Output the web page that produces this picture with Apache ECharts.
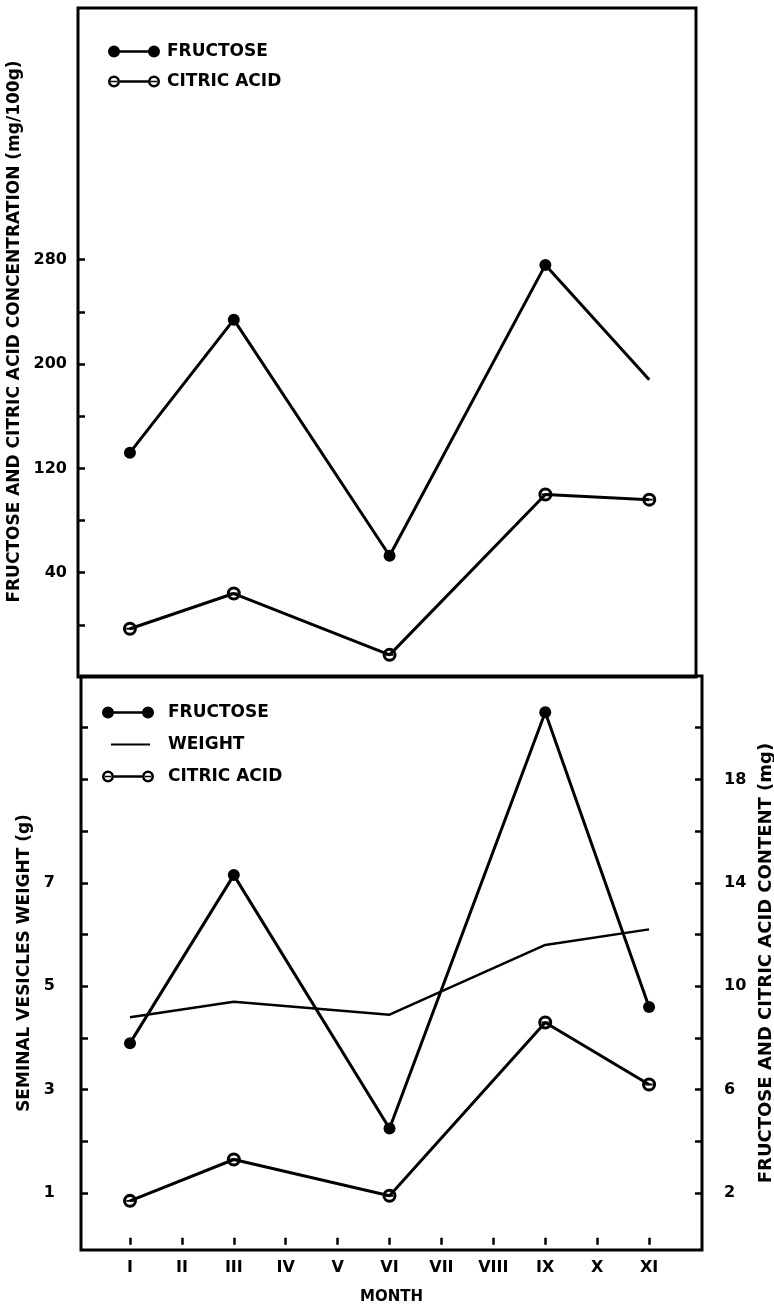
<!DOCTYPE html>
<html>
<head>
<meta charset="utf-8">
<script src="https://cdn.jsdelivr.net/npm/echarts@6/dist/echarts.min.js"></script>
<style>
  html, body { margin: 0; padding: 0; background: #fff; }
  #main { width: 774px; height: 1310px; }
</style>
</head>
<body>
<div id="main"></div>
<script>
// month labels along the bottom axis (index 1 = I)
var months = ['I', 'II', 'III', 'IV', 'V', 'VI', 'VII', 'VIII', 'IX', 'X', 'XI'];
var sampled = [1, 3, 6, 9, 11];

// top panel: concentration (mg/100g)
var concFructose = [132, 234, 53, 276, 188];
var concCitric = [-3, 24, -23, 100, 96];

// bottom panel: content (mg) and vesicle weight (g)
var contFructose = [7.8, 14.3, 4.5, 20.6, 9.2];
var contCitric = [1.7, 3.3, 1.9, 8.6, 6.2];
var weight = [4.4, 4.7, 4.45, 5.8, 6.1];

var topTicks = [0, 40, 80, 120, 160, 200, 240, 280];
var topLabels = [40, 120, 200, 280];
var weightTicks = [1, 2, 3, 4, 5, 6, 7, 8, 9, 10];
var weightLabels = [1, 3, 5, 7];
var contTicks = [2, 4, 6, 8, 10, 12, 14, 16, 18, 20];
var contLabels = [2, 6, 10, 14, 18];

function pairs(vals) {
  return vals.map(function (v, i) { return [sampled[i], v]; });
}
var monthTicks = months.map(function (m, i) { return i + 1; });

var FONT = 'DejaVu Sans';
var dotPath = 'path://M0,6a6,6 0 1,1 12,0a6,6 0 1,1 -12,0Z';
var thetaPath = 'path://M0,6a6,6 0 1,1 12,0a6,6 0 1,1 -12,0ZM2.6,6a3.4,3.4 0 1,0 6.8,0a3.4,3.4 0 1,0 -6.8,0ZM3,5.2H9V6.8H3Z';
var dumbbell = 'path://M0,6a6,6 0 1,1 12,0a6,6 0 1,1 -12,0ZM40,6a6,6 0 1,1 12,0a6,6 0 1,1 -12,0ZM6,4.8H46V7.2H6Z';
var dumbbellOpen = 'path://M0,6a6,6 0 1,1 12,0a6,6 0 1,1 -12,0ZM2.6,6a3.4,3.4 0 1,0 6.8,0a3.4,3.4 0 1,0 -6.8,0ZM3,5.2H9V6.8H3Z' +
  'M40,6a6,6 0 1,1 12,0a6,6 0 1,1 -12,0ZM42.6,6a3.4,3.4 0 1,0 6.8,0a3.4,3.4 0 1,0 -6.8,0ZM43,5.2H49V6.8H43Z' +
  'M12,4.8H40V7.2H12Z';
var plainLine = 'path://M0,0ZM52,12ZM9,5H48V7H9Z';

var chart = echarts.init(document.getElementById('main'));

var textBase = { color: '#000', fontFamily: FONT, fontWeight: 'bold' };

var option = {
  animation: false,
  backgroundColor: '#fff',
  grid: [
    { left: 78, top: 8, width: 618, height: 669, show: true, borderColor: '#000', borderWidth: 3, outerBoundsMode: 'none' },
    { left: 81, top: 676, width: 621, height: 574, show: true, borderColor: '#000', borderWidth: 3, outerBoundsMode: 'none' }
  ],
  legend: [
    {
      left: 103, top: 38, orient: 'vertical', itemWidth: 52, itemHeight: 12, itemGap: 13,
      textStyle: Object.assign({ fontSize: 17, padding: [0, 0, 0, 2] }, textBase),
      itemStyle: { color: '#000', borderWidth: 0 },
      selectedMode: false,
      data: [
        { name: 'FRUCTOSE', icon: dumbbell },
        { name: 'CITRIC ACID', icon: dumbbellOpen }
      ]
    },
    {
      left: 97, top: 699, orient: 'vertical', itemWidth: 52, itemHeight: 12, itemGap: 15,
      textStyle: Object.assign({ fontSize: 17, padding: [0, 0, 0, 9] }, textBase),
      itemStyle: { color: '#000', borderWidth: 0 },
      selectedMode: false,
      data: [
        { name: 'FRUCTOSE', icon: dumbbell },
        { name: 'WEIGHT', icon: plainLine },
        { name: 'CITRIC ACID', icon: dumbbellOpen }
      ]
    }
  ],
  xAxis: [
    {
      type: 'value', gridIndex: 0, min: 0, max: 11.9,
      axisLine: { show: false }, axisTick: { show: false }, axisLabel: { show: false }, splitLine: { show: false }
    },
    {
      type: 'value', gridIndex: 1, min: 0.056, max: 12.02,
      name: 'MONTH', nameLocation: 'middle', nameGap: 40,
      nameTextStyle: Object.assign({ fontSize: 15 }, textBase),
      axisLine: { show: false },
      axisTick: { customValues: monthTicks, inside: true, length: 7, lineStyle: { color: '#000', width: 2.5 } },
      axisLabel: Object.assign({
        customValues: monthTicks,
        formatter: function (v) { return months[Math.round(v) - 1] || ''; },
        fontSize: 16, margin: 10
      }, textBase),
      splitLine: { show: false }
    }
  ],
  yAxis: [
    {
      type: 'value', gridIndex: 0, min: -40, max: 473,
      name: 'FRUCTOSE AND CITRIC ACID CONCENTRATION (mg/100g)', nameLocation: 'middle', nameRotate: 90, nameGap: 34,
      nameTextStyle: Object.assign({ fontSize: 17, padding: [0, 0, 0, 22] }, textBase),
      axisLine: { show: false },
      axisTick: { customValues: topTicks, inside: true, length: 7, lineStyle: { color: '#000', width: 2.5 } },
      axisLabel: Object.assign({ customValues: topLabels, fontSize: 16, margin: 11 }, textBase),
      splitLine: { show: false }
    },
    {
      type: 'value', gridIndex: 1, min: -0.1, max: 11.0, position: 'left',
      name: 'SEMINAL VESICLES WEIGHT (g)', nameLocation: 'middle', nameRotate: 90, nameGap: 46,
      nameTextStyle: Object.assign({ fontSize: 17 }, textBase),
      axisLine: { show: false },
      axisTick: { customValues: weightTicks, inside: true, length: 7, lineStyle: { color: '#000', width: 2.5 } },
      axisLabel: Object.assign({ customValues: weightLabels, fontSize: 16, margin: 26 }, textBase),
      splitLine: { show: false }
    },
    {
      type: 'value', gridIndex: 1, min: -0.2, max: 22, position: 'right',
      name: 'FRUCTOSE AND CITRIC ACID CONTENT (mg)', nameLocation: 'middle', nameRotate: 90, nameGap: 32,
      nameTextStyle: Object.assign({ fontSize: 18 }, textBase),
      axisLine: { show: false },
      axisTick: { customValues: contTicks, inside: true, length: 7, lineStyle: { color: '#000', width: 2.5 } },
      axisLabel: Object.assign({ customValues: contLabels, fontSize: 16, margin: 22 }, textBase),
      splitLine: { show: false }
    }
  ],
  series: [
    {
      name: 'FRUCTOSE', type: 'line', xAxisIndex: 0, yAxisIndex: 0,
      data: pairs(concFructose).map(function (p, i) {
        return i === sampled.length - 1 ? { value: p, symbol: 'none' } : p;
      }),
      symbol: dotPath, symbolSize: 12,
      lineStyle: { color: '#000', width: 3 }, itemStyle: { color: '#000', borderWidth: 0 }
    },
    {
      name: 'CITRIC ACID', type: 'line', xAxisIndex: 0, yAxisIndex: 0,
      data: pairs(concCitric),
      symbol: thetaPath, symbolSize: 14,
      lineStyle: { color: '#000', width: 3 }, itemStyle: { color: '#000', borderWidth: 0 }
    },
    {
      name: 'FRUCTOSE', type: 'line', xAxisIndex: 1, yAxisIndex: 2,
      data: pairs(contFructose),
      symbol: dotPath, symbolSize: 12,
      lineStyle: { color: '#000', width: 3 }, itemStyle: { color: '#000', borderWidth: 0 }
    },
    {
      name: 'WEIGHT', type: 'line', xAxisIndex: 1, yAxisIndex: 1,
      data: pairs(weight),
      symbol: 'none',
      lineStyle: { color: '#000', width: 2.5 }, itemStyle: { color: '#000', borderWidth: 0 }
    },
    {
      name: 'CITRIC ACID', type: 'line', xAxisIndex: 1, yAxisIndex: 2,
      data: pairs(contCitric),
      symbol: thetaPath, symbolSize: 14,
      lineStyle: { color: '#000', width: 3 }, itemStyle: { color: '#000', borderWidth: 0 }
    }
  ]
};

option && chart.setOption(option);
</script>
</body>
</html>
